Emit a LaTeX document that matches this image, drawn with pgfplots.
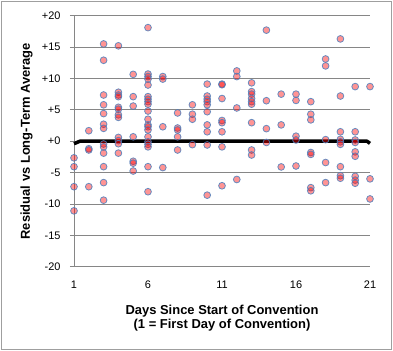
\documentclass[border=0pt]{standalone}
\usepackage{pgfplots}
\pgfplotsset{compat=1.18}
\usepackage{pgfplotstable}
\usepackage{fontspec}
\setmainfont{Liberation Sans}
\definecolor{mkedge}{RGB}{79,129,189}
\definecolor{gridc}{RGB}{134,134,134}
\pgfplotstableread{
x y
1 -2.65
1 -4.06
1 -7.25
1 -11.1
2 1.67
2 -1.2
2 -1.4
2 -7.25
3 15.5
3 12.9
3 7.36
3 5.8
3 4.4
3 2.7
3 2.05
3 -0.45
3 -0.9
3 -1.9
3 -4.06
3 -6.6
3 -9.4
4 15.2
4 7.8
4 7.36
4 7.1
4 5.4
4 5.1
4 4.2
4 3.8
4 0.6
4 0.1
4 -0.4
4 -1.9
5 10.65
5 7.1
5 5.6
5 0.7
5 -3.2
5 -3.5
5 -4.75
6 18.1
6 10.7
6 10.3
6 9.9
6 8.95
6 7.1
6 6.7
6 6.3
6 5.9
6 4.8
6 3.5
6 2.6
6 2.3
6 1.8
6 0.7
6 -0.1
6 -0.5
6 -0.9
6 -4.06
6 -8.05
7 10.3
7 9.9
7 2.3
7 -4.2
8 4.5
8 2.1
8 1.8
8 0.7
8 -1.4
9 5.8
9 4.3
9 3.5
9 -0.55
10 9.1
10 7.2
10 6.7
10 6.3
10 5.8
10 4.7
10 2.6
10 1.5
10 -0.6
10 -8.6
11 9.1
11 9.0
11 6.8
11 3.3
11 2.95
11 1.5
11 -0.9
11 -7.1
12 11.2
12 10.3
12 5.3
12 -6.1
13 9.3
13 7.9
13 7.5
13 6.8
13 6.3
13 5.9
13 2.95
13 -1.4
13 -2.2
14 17.7
14 6.45
14 2.0
14 -0.2
15 7.5
15 2.6
15 -4.1
16 7.5
16 6.5
16 0.8
16 0.2
16 -3.95
17 6.3
17 4.3
17 3.4
17 -1.8
17 -2.1
17 -7.4
17 -7.9
18 13.1
18 12.0
18 0.25
18 -3.4
18 -6.6
19 16.3
19 7.2
19 1.5
19 0.3
19 -0.1
19 -0.5
19 -4.06
19 -5.5
19 -5.9
20 8.7
20 1.5
20 0.2
20 -0.2
20 -1.7
20 -2.4
20 -5.6
20 -6.2
20 -6.7
21 8.7
21 -6.0
21 -9.2
}\resid
\begin{document}
\begin{tikzpicture}
\useasboundingbox (0,0) rectangle (393bp,351bp);
\draw[gray!75, line width=0.8bp] (1.5bp,1.5bp) rectangle (391.5bp,349.5bp);
\begin{axis}[
  at={(74bp,84.3bp)}, anchor=south west,
  scale only axis, width=296bp, height=251bp,
  xmin=1, xmax=21, ymin=-20, ymax=20,
  clip=false,
  axis lines*=left,
  axis line style={-, draw=gridc, line width=0.8bp},
  ymajorgrids, grid style={gridc, line width=0.8bp},
  xtick={1,6,11,16,21},
  xticklabels={1,6,11,16,21},
  x tick style={draw=none},
  ytick={-20,-15,-10,-5,0,5,10,15,20},
  yticklabels={-20,-15,-10,-5,+0,+5,+10,+15,+20},
  y tick style={draw=gridc, line width=0.8bp},
  tick align=outside, tick pos=left,
  major tick length=4bp,
  tick label style={font=\fontsize{11}{13}\selectfont, text=black},
  yticklabel style={anchor=east, xshift=-6bp},
  xticklabel style={anchor=center, yshift=-14bp},
  ylabel={Residual vs Long-Term Average},
  ylabel style={at={(axis description cs:-0.16,0.5)}, anchor=center, font=\bfseries\fontsize{13}{15}\selectfont},
  xlabel={Days Since Start of Convention\\(1 = First Day of Convention)},
  xlabel style={at={(axis description cs:0.5,-0.205)}, anchor=center, align=center, font=\bfseries\fontsize{13}{15}\selectfont},
]
\addplot[black, line width=3.5bp, line join=round] coordinates {(1,-0.4) (1.4,0) (20.8,0) (21,-0.35)};
\addplot[only marks, mark=*, mark size=3.4bp,
  mark options={fill=red, fill opacity=0.42, draw=mkedge, draw opacity=0.85, line width=0.8bp}]
  table[x=x, y=y] {\resid};
\end{axis}
\end{tikzpicture}
\end{document}
